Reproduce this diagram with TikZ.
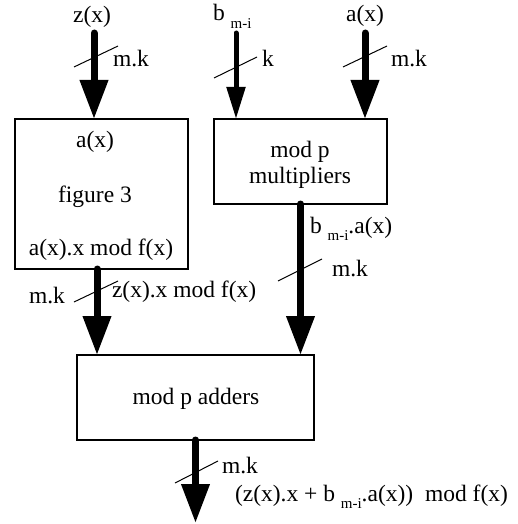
\documentclass[tikz,border=0pt]{standalone}
\usepackage{fontspec}
\setmainfont{Liberation Serif}
\usetikzlibrary{arrows.meta}
% lowered small index, as in b_{m-i}
\newcommand\lowsub[1]{\raisebox{-0.33em}{\fontsize{15}{15}\selectfont #1}}
\begin{document}
\begin{tikzpicture}[x=1pt,y=-1pt,
  every node/.style={font=\fontsize{23.5}{27}\selectfont, inner sep=0pt, outer sep=0pt},
  block/.style={draw, line width=1.2pt, rectangle, anchor=north west},
  bus/.style={line width=7pt, line cap=round, -{Triangle[length=39pt,width=27pt]}},
  narrowbus/.style={line width=5pt, line cap=round, -{Triangle[length=32pt,width=18pt]}},
  tick/.style={line width=1pt},
  txt/.style={anchor=base},
  ltxt/.style={anchor=base west}]
\useasboundingbox (0,0) rectangle (518,524);

% blocks
\node[block, minimum width=173pt, minimum height=150pt] (fig) at (15,119) {};
\node[block, minimum width=173pt, minimum height=85pt] (mul) at (214,119) {};
\node[block, minimum width=237pt, minimum height=85pt] (add) at (77,355) {};

% block texts
\node[txt] (figa) at (95,147) {a(x)};
\node[txt] (figb) at (95,202) {figure 3};
\node[txt] (figc) at (101,255) {a(x).x mod f(x)};
\node[txt] (mula) at (300,157) {mod p};
\node[txt] (mulb) at (300,183) {multipliers};
\node[txt] (adda) at (196,404) {mod p adders};

% inputs
\node[txt] (zlab) at (92,23) {z(x)};
\node[ltxt] (blab) at (213,21) {b \lowsub{m-i}};
\node[txt] (alab) at (365,22) {a(x)};
\coordinate (zin) at (94,33);
\coordinate (bin) at (236,33);
\coordinate (ain) at (365,33);
\draw[bus] (zin) -- (zin |- fig.north);
\draw[narrowbus] (bin) -- (bin |- mul.north);
\draw[bus] (ain) -- (ain |- mul.north);
\draw[tick] (74,67) -- (118,46);
\draw[tick] (214,78) -- (257,57);
\draw[tick] (343,67) -- (387,46);
\node[ltxt] (zw) at (113,67) {m.k};
\node[ltxt] (bw) at (262,67) {k};
\node[ltxt] (aw) at (391,67) {m.k};

% block outputs into the adders
\coordinate (fo) at (97,0);
\draw[bus] (fo |- fig.south) -- (fo |- add.north);
\draw[bus] (mul.south) -- (mul.south |- add.north);
\draw[tick] (74,302) -- (118,281);
\draw[tick] (278,281) -- (322,259);
\node[ltxt] (fw) at (29,303) {m.k};
\node[ltxt] (fl) at (112,297) {z(x).x mod f(x)};
\node[ltxt] (ml) at (310,233) {b \lowsub{m-i}.a(x)};
\node[ltxt] (mw) at (332,276) {m.k};

% result
\coordinate (out) at (196,523);
\draw[bus] (add.south) -- (add.south |- out);
\draw[tick] (175,483) -- (218,461);
\node[ltxt] (ow) at (222,473) {m.k};
\node[ltxt] (ol) at (235,501) {(z(x).x + b \lowsub{m-i}.a(x))\ \ mod f(x)};
\end{tikzpicture}
\end{document}
